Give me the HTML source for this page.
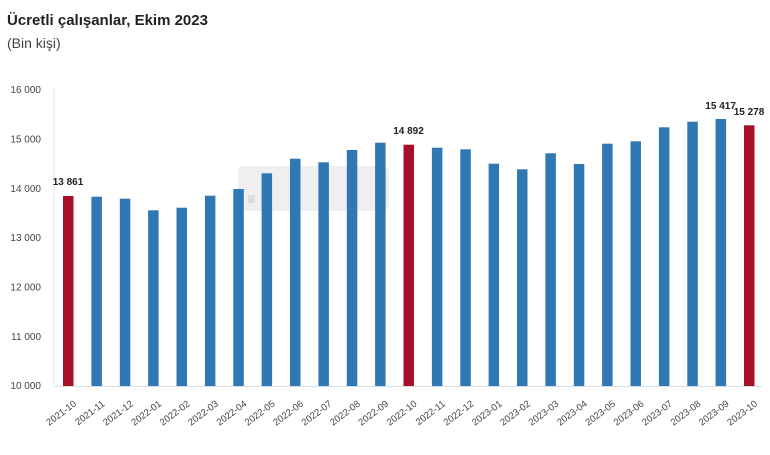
<!DOCTYPE html>
<html>
<head>
<meta charset="utf-8">
<style>
  html,body{margin:0;padding:0;background:#fff;}
  body{width:770px;height:455px;overflow:hidden;position:relative;}
  svg{position:absolute;left:0;top:0;}
  text{font-family:"Liberation Sans", Arial, sans-serif;}
</style>
</head>
<body>
<svg width="770" height="455" viewBox="0 0 770 455" xmlns="http://www.w3.org/2000/svg">
  <!-- Title -->
  <text x="7" y="25" font-size="15" font-weight="bold" fill="#222">Ücretli çalışanlar, Ekim 2023</text>
  <text x="7" y="48" font-size="14" fill="#444">(Bin kişi)</text>

  <!-- watermark box -->
  <rect x="238" y="166" width="151" height="45" rx="6" fill="#efefef"/>
  <rect x="248" y="195" width="7" height="8" fill="#dedede"/>

  <!-- axes -->
  <line x1="54" y1="89" x2="54" y2="386" stroke="#e2e2e2" stroke-width="1"/>
  <line x1="54" y1="386.5" x2="762" y2="386.5" stroke="#d6dee6" stroke-width="1"/>

  <!-- y labels -->
  <g font-size="10" fill="#444" text-anchor="end">
    <text x="41" y="93.1">16 000</text>
    <text x="41" y="142.4">15 000</text>
    <text x="41" y="191.8">14 000</text>
    <text x="41" y="241.1">13 000</text>
    <text x="41" y="290.4">12 000</text>
    <text x="41" y="339.8">11 000</text>
    <text x="41" y="389.1">10 000</text>
  </g>

  <!-- bars -->
  <g>
    <rect x="63" y="196" width="10.5" height="190" fill="#a8102a"/>
    <rect x="91.4" y="196.7" width="10.5" height="189.3" fill="#2f78b4"/>
    <rect x="119.8" y="198.7" width="10.5" height="187.3" fill="#2f78b4"/>
    <rect x="148.1" y="210.3" width="10.5" height="175.7" fill="#2f78b4"/>
    <rect x="176.5" y="207.7" width="10.5" height="178.3" fill="#2f78b4"/>
    <rect x="204.9" y="195.7" width="10.5" height="190.3" fill="#2f78b4"/>
    <rect x="233.3" y="189" width="10.5" height="197" fill="#2f78b4"/>
    <rect x="261.6" y="173.3" width="10.5" height="212.7" fill="#2f78b4"/>
    <rect x="290" y="158.7" width="10.5" height="227.3" fill="#2f78b4"/>
    <rect x="318.4" y="162.3" width="10.5" height="223.7" fill="#2f78b4"/>
    <rect x="346.8" y="150" width="10.5" height="236" fill="#2f78b4"/>
    <rect x="375.1" y="142.7" width="10.5" height="243.3" fill="#2f78b4"/>
    <rect x="403.5" y="144.7" width="10.5" height="241.3" fill="#a8102a"/>
    <rect x="431.9" y="147.7" width="10.5" height="238.3" fill="#2f78b4"/>
    <rect x="460.3" y="149.3" width="10.5" height="236.7" fill="#2f78b4"/>
    <rect x="488.6" y="163.7" width="10.5" height="222.3" fill="#2f78b4"/>
    <rect x="517" y="169.3" width="10.5" height="216.7" fill="#2f78b4"/>
    <rect x="545.4" y="153.3" width="10.5" height="232.7" fill="#2f78b4"/>
    <rect x="573.8" y="164" width="10.5" height="222" fill="#2f78b4"/>
    <rect x="602.1" y="143.7" width="10.5" height="242.3" fill="#2f78b4"/>
    <rect x="630.5" y="141.3" width="10.5" height="244.7" fill="#2f78b4"/>
    <rect x="658.9" y="127.3" width="10.5" height="258.7" fill="#2f78b4"/>
    <rect x="687.3" y="121.7" width="10.5" height="264.3" fill="#2f78b4"/>
    <rect x="715.6" y="119" width="10.5" height="267" fill="#2f78b4"/>
    <rect x="744" y="125.3" width="10.5" height="260.7" fill="#a8102a"/>
  </g>

  <!-- value labels -->
  <g font-size="10" font-weight="bold" fill="#222" text-anchor="middle">
    <text x="68" y="184.8">13 861</text>
    <text x="408.5" y="133.8">14 892</text>
    <text x="720.6" y="109.2">15 417</text>
    <text x="749" y="114.8">15 278</text>
  </g>

  <!-- x labels -->
  <g font-size="9.5" fill="#444" text-anchor="end">
    <text transform="translate(77,405) rotate(-37)">2021-10</text>
    <text transform="translate(105.4,405) rotate(-37)">2021-11</text>
    <text transform="translate(133.8,405) rotate(-37)">2021-12</text>
    <text transform="translate(162.1,405) rotate(-37)">2022-01</text>
    <text transform="translate(190.5,405) rotate(-37)">2022-02</text>
    <text transform="translate(218.9,405) rotate(-37)">2022-03</text>
    <text transform="translate(247.3,405) rotate(-37)">2022-04</text>
    <text transform="translate(275.6,405) rotate(-37)">2022-05</text>
    <text transform="translate(304,405) rotate(-37)">2022-06</text>
    <text transform="translate(332.4,405) rotate(-37)">2022-07</text>
    <text transform="translate(360.8,405) rotate(-37)">2022-08</text>
    <text transform="translate(389.1,405) rotate(-37)">2022-09</text>
    <text transform="translate(417.5,405) rotate(-37)">2022-10</text>
    <text transform="translate(445.9,405) rotate(-37)">2022-11</text>
    <text transform="translate(474.3,405) rotate(-37)">2022-12</text>
    <text transform="translate(502.6,405) rotate(-37)">2023-01</text>
    <text transform="translate(531,405) rotate(-37)">2023-02</text>
    <text transform="translate(559.4,405) rotate(-37)">2023-03</text>
    <text transform="translate(587.8,405) rotate(-37)">2023-04</text>
    <text transform="translate(616.1,405) rotate(-37)">2023-05</text>
    <text transform="translate(644.5,405) rotate(-37)">2023-06</text>
    <text transform="translate(672.9,405) rotate(-37)">2023-07</text>
    <text transform="translate(701.3,405) rotate(-37)">2023-08</text>
    <text transform="translate(729.6,405) rotate(-37)">2023-09</text>
    <text transform="translate(758,405) rotate(-37)">2023-10</text>
  </g>
</svg>
</body>
</html>
